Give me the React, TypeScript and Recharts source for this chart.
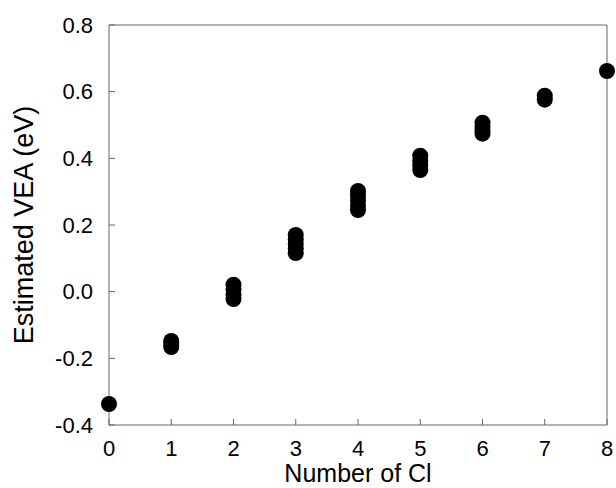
import React from 'react';
import { ScatterChart, Scatter, XAxis, YAxis, ReferenceLine, Label } from 'recharts';

const clCounts = [0, 1, 2, 3, 4, 5, 6, 7, 8];
const veaAt0 = [-0.337];
const veaAt1 = [-0.148, -0.157, -0.166];
const veaAt2 = [0.021, 0.007, -0.008, -0.022];
const veaAt3 = [0.17, 0.157, 0.143, 0.13, 0.116];
const veaAt4 = [0.302, 0.288, 0.274, 0.259, 0.245];
const veaAt5 = [0.408, 0.394, 0.38, 0.365];
const veaAt6 = [0.507, 0.496, 0.485, 0.474];
const veaAt7 = [0.588, 0.576];
const veaAt8 = [0.662];
const veaByCount = [veaAt0, veaAt1, veaAt2, veaAt3, veaAt4, veaAt5, veaAt6, veaAt7, veaAt8];

const xTicks = [0, 1, 2, 3, 4, 5, 6, 7, 8];
const yTicks = [-0.4, -0.2, 0, 0.2, 0.4, 0.6, 0.8];

const points = clCounts.flatMap((n, i) => veaByCount[i].map((v) => ({ n, vea: v })));

const FONT = '"Liberation Sans", Arial, Helvetica, sans-serif';
const AXIS = '#666';

const Dot = (props: any) => <circle cx={props.cx} cy={props.cy} r={8} fill="#000" />;

const YTitle = (props: any) => {
  const vb = props.viewBox || {};
  const cx = 33;
  const cy = (vb.y ?? 25) + (vb.height ?? 400) / 2;
  return (
    <text
      x={cx}
      y={cy}
      transform={`rotate(-90 ${cx} ${cy})`}
      textAnchor="middle"
      fontSize={27}
      fontFamily={FONT}
      fill="#000"
    >
      Estimated VEA (eV)
    </text>
  );
};

export default function App() {
  return (
    <div style={{ position: 'absolute', left: 0, top: 0, width: 616, height: 488, background: '#fff' }}>
      <ScatterChart width={616} height={488} margin={{ top: 25, right: 9, left: 0, bottom: 0 }}>
        <XAxis
          type="number"
          dataKey="n"
          domain={[0, 8]}
          ticks={xTicks}
          interval={0}
          height={63}
          axisLine={{ stroke: AXIS }}
          tickLine={{ stroke: AXIS }}
          tickSize={-6}
          tickMargin={21}
          tick={{ fontSize: 22, fill: '#000', fontFamily: FONT }}
        >
          <Label
            value="Number of Cl"
            position="insideBottom"
            offset={6}
            style={{ fontSize: 25, fill: '#000', fontFamily: FONT }}
          />
        </XAxis>
        <YAxis
          type="number"
          dataKey="vea"
          domain={[-0.4, 0.8]}
          ticks={yTicks}
          interval={0}
          width={109}
          axisLine={{ stroke: AXIS }}
          tickLine={{ stroke: AXIS }}
          tickSize={-6}
          tickMargin={22}
          tickFormatter={(v: number) => v.toFixed(1)}
          tick={{ fontSize: 22, fill: '#000', fontFamily: FONT }}
        >
          <Label content={<YTitle />} />
        </YAxis>
        <ReferenceLine y={0.8} stroke={AXIS} />
        <ReferenceLine x={8} stroke={AXIS} />
        <Scatter data={points} shape={<Dot />} isAnimationActive={false} />
      </ScatterChart>
    </div>
  );
}
